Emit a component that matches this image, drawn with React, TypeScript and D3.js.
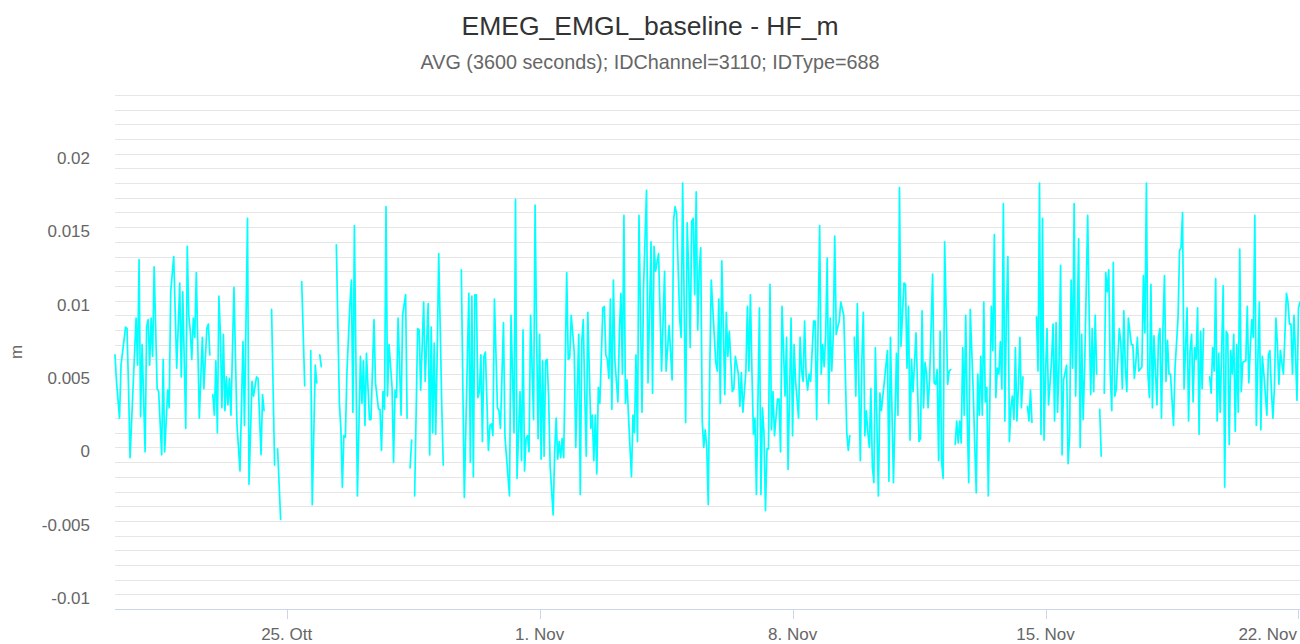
import * as d3 from "d3";
import { useEffect } from "react";

// hourly averages, [hours since start, value in mm]; null = no data (line breaks)
type Pt = [number, number | null];

const START = Date.UTC(2021, 9, 20, 6);
const LAST_HOUR = 787;

const oct20to23: Pt[] = [[0,6.3],[1,4.5],[3,2.0],[4,5.6],[7,8.2],[8,8.1],[9,4.0],[10,-0.7],[12,4.1],[14,8.8],[15,5.6],[16,12.8],[17,2.1],[18,7.0],[20,-0.3],[21,8.2],[22,8.7],[23,5.6],[24,8.8],[25,6.2],[26,12.3],[28,4.0],[29,3.8],[31,-0.5],[32,6.0],[33,-0.3],[35,3.9],[36,2.7],[37,10.6],[39,13.0],[41,5.4],[43,11.2],[44,4.8],[45,10.6],[47,1.3],[48,13.7],[49,9.0],[50,7.9],[51,6.0],[52,8.8],[53,7.5],[54,11.9],[56,2.0],[58,7.5],[59,4.0],[61,8.1],[62,8.4],[63,6.3],[64,null],[65,3.6],[66,2.2],[67,5.9],[68,1.0],[69,10.3]];
const oct23to26: Pt[] = [[70,7.7],[71,2.7],[72,7.7],[73,2.5],[74,4.8],[75,2.9],[76,4.7],[77,2.2],[79,10.9],[81,1.6],[83,-1.6],[85,7.2],[86,1.5],[88,15.6],[89,-2.5],[91,4.5],[92,3.5],[94,4.8],[95,4.7],[97,-0.5],[98,3.6],[99,2.5],[100,null],[104,9.4],[106,-1.2],[107,null],[108,-0.1],[110,-4.9],[111,null],[124,11.3],[126,4.2],[127,null],[130,6.6],[131,-3.9],[133,5.6],[134,4.4],[135,null],[136,6.3],[137,5.5],[138,null]];
const oct26to29: Pt[] = [[147,13.8],[149,3.1],[150,1.3],[151,-2.7],[152,0.8],[153,0.7],[154,5.0],[156,9.7],[157,11.4],[158,2.4],[159,15.1],[161,-3.3],[163,6.2],[164,3.0],[165,5.9],[166,1.5],[167,6.4],[169,1.9],[170,1.9],[172,8.7],[173,4.4],[175,2.6],[176,2.6],[177,-0.2],[178,3.8],[179,2.6],[180,16.4],[181,3.5],[182,7.0],[184,4.1],[185,-1.0],[186,3.9],[187,3.4],[188,8.8],[190,2.2],[191,9.0],[193,10.4],[194,2.0],[195,null],[196,-1.4],[197,0.5],[198,null],[199,-3.3],[201,8.1],[202,8.0],[203,3.9],[205,9.9],[206,4.5],[208,9.8],[209,-0.5],[210,8.2],[211,1.0]];
const oct29toNov1: Pt[] = [[212,7.1],[213,0.9],[214,6.5],[215,13.2],[217,2.9],[218,-1.2],[219,null],[230,12.1],[232,-3.4],[234,6.0],[235,10.5],[236,-1.0],[237,10.3],[238,-2.0],[239,10.4],[240,10.4],[241,3.4],[242,3.8],[243,6.3],[244,0.4],[245,6.2],[246,6.5],[248,-0.2],[249,1.5],[250,1.6],[251,0.8],[252,10.1],[254,2.7],[255,2.5],[256,1.3],[258,8.5],[259,0.7],[262,-3.3],[263,9.0],[265,1.0],[266,16.9],[267,-2.1],[269,3.8],[270,-0.9],[271,8.0],[272,-1.6],[273,0.6],[274,0.8],[275,-0.3],[276,9.0],[278,1.9],[279,16.5],[280,7.7],[281,0.6],[282,7.7],[283,-0.8]];
const nov1to4: Pt[] = [[284,5.9],[285,-0.6],[286,5.9],[287,6.0],[288,3.4],[289,-1.3],[291,-4.6],[292,-0.3],[293,2.0],[294,-0.8],[295,0.4],[296,-0.7],[297,0.6],[298,-0.7],[300,11.9],[301,6.0],[302,6.1],[303,9.0],[305,6.5],[306,0.0],[308,7.7],[309,-3.2],[310,7.2],[311,8.7],[312,3.5],[313,-0.6],[314,9.2],[316,1.3],[317,2.2],[318,-0.9],[319,2.2],[320,-1.8],[321,4.1],[322,3.0],[324,9.5],[325,9.6],[326,6.3],[327,6.0],[328,4.7],[329,10.1],[330,2.6],[331,11.4],[332,5.9],[334,3.1],[335,7.9],[336,10.5],[337,5.0],[338,15.8],[339,3.0],[340,4.6],[341,2.2],[343,-2.0],[344,2.2],[345,1.0],[346,6.3],[347,0.4],[348,15.8],[350,2.4],[351,10.8],[353,17.5],[354,4.4],[356,14.0]];
const nov4to7: Pt[] = [[357,3.7],[358,13.7],[359,12.0],[361,13.2],[363,5.2],[365,12.0],[366,5.2],[368,8.3],[370,4.6],[371,15.5],[372,16.4],[373,15.9],[375,8.8],[376,7.5],[377,18.0],[379,1.7],[380,15.3],[381,12.0],[382,6.8],[383,15.4],[384,15.6],[385,10.4],[386,17.4],[387,8.0],[388,12.0],[389,13.6],[390,1.8],[391,0.0],[392,1.2],[393,0.0],[394,-3.9],[395,5.2],[396,11.4],[397,9.5],[399,5.8],[400,5.2],[401,10.1],[402,3.0],[403,12.7],[405,3.6],[406,9.2],[407,6.2],[408,7.9],[410,3.8],[411,4.0],[412,6.2],[414,5.0],[415,2.8],[416,5.1],[417,2.4],[419,5.2],[420,9.6],[421,5.2],[422,10.4],[423,5.2],[424,0.9],[425,2.0],[426,-3.2],[428,9.5]];
const nov7to10: Pt[] = [[429,-3.2],[430,2.7],[431,1.0],[432,-4.3],[433,-0.1],[434,-0.1],[435,11.1],[436,1.2],[437,3.8],[438,0.8],[440,3.3],[441,3.3],[442,-0.3],[443,9.6],[445,3.5],[446,7.5],[447,-1.5],[449,8.8],[450,0.8],[451,7.0],[452,4.5],[454,2.0],[455,7.5],[456,5.2],[457,4.5],[458,8.6],[459,4.9],[460,3.9],[461,5.0],[462,4.5],[464,8.6],[465,8.6],[466,1.9],[467,8.6],[468,15.1],[469,5.0],[470,7.0],[471,5.5],[472,7.7],[473,12.9],[474,3.0],[475,8.8],[476,5.2],[477,7.5],[478,14.4],[479,7.7],[480,8.2],[481,8.6],[482,9.9],[484,9.0],[485,5.3],[486,1.0],[487,-0.2],[488,0.8],[489,null],[491,7.5],[492,3.5],[493,9.8],[495,-0.9],[496,5.9],[497,9.2],[498,0.8],[499,2.5]];
const nov10to13: Pt[] = [[500,1.0],[501,0.0],[502,4.0],[503,-1.3],[504,-2.4],[505,6.8],[507,-3.3],[508,3.7],[509,2.5],[513,6.6],[514,-2.3],[515,7.5],[517,-2.4],[519,6.4],[520,2.2],[521,17.7],[522,6.9],[524,11.2],[525,11.1],[526,5.4],[527,9.6],[528,0.5],[529,6.0],[530,3.8],[531,5.8],[532,7.8],[534,0.4],[535,0.6],[536,9.3],[537,2.7],[538,5.8],[539,5.0],[540,2.7],[541,4.6],[543,11.8],[544,4.4],[545,4.3],[546,5.3],[547,-0.9],[548,7.9],[549,-1.0],[550,-2.1],[551,14.0],[553,4.3],[554,5.2],[555,5.3],[556,null],[558,0.2],[559,1.8],[560,0.3],[561,1.8],[562,0.3],[563,6.8],[564,2.2],[565,9.0],[566,2.2],[567,-2.4],[568,9.4],[570,3.8],[571,0.1],[572,-3.1]];
const nov13to16: Pt[] = [[573,5.0],[574,2.2],[575,6.2],[576,2.2],[577,9.9],[578,3.1],[579,4.1],[580,-3.3],[582,9.6],[583,6.6],[584,14.5],[585,3.4],[586,5.4],[587,5.0],[588,7.2],[589,4.0],[590,16.6],[591,1.8],[592,9.0],[593,13.0],[594,0.4],[595,2.7],[596,3.5],[597,1.9],[598,6.8],[599,1.8],[600,4.2],[601,7.5],[602,2.7],[603,4.8],[604,null],[606,2.8],[607,1.8],[608,3.9],[609,1.7],[610,null],[612,8.9],[613,5.2],[614,18.0],[615,0.9],[616,15.6],[617,0.5],[618,5.0],[619,8.1],[620,2.9],[622,5.9],[623,8.4],[624,1.8],[625,8.5],[626,2.4],[627,5.9],[628,12.4],[629,-0.5],[630,4.6],[632,5.6],[633,-1.1],[634,0.8],[635,11.4],[636,5.4],[637,16.6],[638,3.5],[639,8.0],[640,14.2],[641,0.0],[642,7.7]];
const nov16to19: Pt[] = [[643,1.9],[644,5.6],[646,15.8],[647,9.0],[648,3.6],[649,8.1],[650,3.8],[651,9.0],[652,5.0],[653,null],[654,2.6],[655,-0.6],[656,null],[657,3.7],[658,11.9],[659,10.6],[660,12.1],[661,5.0],[662,2.5],[663,12.6],[664,3.5],[665,4.0],[667,8.1],[668,7.1],[669,4.0],[670,9.3],[671,5.4],[672,3.8],[673,8.8],[675,7.0],[676,7.0],[677,4.7],[678,5.8],[679,7.5],[680,5.2],[682,5.5],[683,11.7],[684,7.8],[685,18.0],[686,5.0],[687,3.4],[688,11.1],[689,2.7],[690,7.6],[692,2.9],[693,7.5],[694,8.1],[695,2.0],[696,8.1],[697,11.7],[698,4.5],[699,7.3],[700,5.0],[701,5.0],[703,1.5],[704,5.4],[706,8.8],[707,13.4],[708,13.6],[709,16.0],[710,4.0],[712,9.5],[713,1.8],[714,6.6]];
const nov19to22: Pt[] = [[715,7.7],[716,3.1],[717,6.8],[718,6.0],[719,9.5],[720,0.9],[721,7.9],[722,4.0],[723,8.1],[724,null],[727,4.8],[728,3.7],[729,6.8],[730,5.2],[731,11.5],[732,1.8],[733,6.4],[734,2.4],[736,11.0],[737,-2.7],[738,7.9],[739,7.7],[740,0.2],[741,6.6],[742,5.0],[743,7.7],[744,1.1],[745,7.0],[746,2.4],[747,13.5],[748,3.8],[749,5.8],[751,5.9],[752,9.6],[753,4.4],[754,6.8],[755,8.7],[756,7.5],[757,15.8],[758,1.5],[759,5.9],[760,9.9],[761,1.2],[762,6.2],[763,5.0],[765,2.2],[766,6.3],[767,6.6],[768,3.9],[769,2.0],[770,4.0],[771,8.8],[772,7.0],[773,4.3],[774,6.6],[775,5.7],[776,5.0],[778,10.5],[779,9.9],[780,8.4],[781,8.4],[782,5.0],[783,9.0],[784,6.4],[785,3.2],[786,9.5],[787,9.9]];

const series: Pt[] = [
  ...oct20to23, ...oct23to26, ...oct26to29, ...oct29toNov1, ...nov1to4, ...nov4to7,
  ...nov7to10, ...nov10to13, ...nov13to16, ...nov16to19, ...nov19to22,
];

const yTicks = [0.02, 0.015, 0.01, 0.005, 0, -0.005, -0.01];
const yTickLabels = ["0.02", "0.015", "0.01", "0.005", "0", "-0.005", "-0.01"];
const xTicks = [Date.UTC(2021, 9, 25), Date.UTC(2021, 10, 1), Date.UTC(2021, 10, 8), Date.UTC(2021, 10, 15), Date.UTC(2021, 10, 22)];
const xTickLabels = ["25. Ott", "1. Nov", "8. Nov", "15. Nov", "22. Nov"];

const W = 1300, H = 644;
const margin = { top: 95, right: 0, bottom: 35, left: 115 };
const FONT = "'Liberation Sans', Arial, Helvetica, sans-serif";

export default function App() {
  useEffect(() => {
    document.body.style.margin = "0";
  }, []);

  const x = d3.scaleUtc()
    .domain([START, START + LAST_HOUR * 3600e3])
    .range([margin.left, W - margin.right]);
  const y = d3.scaleLinear()
    .domain([-0.011, 0.024])
    .range([H - margin.bottom, margin.top]);

  // minor grid every 0.001
  const grid = d3.range(-11, 25).map(i => i / 1000);

  const line = d3.line<Pt>()
    .defined(d => d[1] !== null)
    .x(d => x(START + d[0] * 3600e3))
    .y(d => y((d[1] as number) / 1000));

  const axisY = H - margin.bottom;

  return (
    <svg width={W} height={H} style={{ display: "block", fontFamily: FONT }}>
      <rect width={W} height={H} fill="#fff" />
      <text x={W / 2} y={35} textAnchor="middle" fontSize={26.5} fill="#333333">
        EMEG_EMGL_baseline - HF_m
      </text>
      <text x={W / 2} y={69} textAnchor="middle" fontSize={19.8} fill="#666666">
        AVG (3600 seconds); IDChannel=3110; IDType=688
      </text>

      {grid.map(g => (
        <line key={g} x1={margin.left} x2={W - margin.right} y1={Math.round(y(g)) + 0.5} y2={Math.round(y(g)) + 0.5}
          stroke="#e6e6e6" strokeWidth={1} />
      ))}

      {yTicks.map((t, i) => (
        <text key={t} x={90} y={y(t) + 4.5} textAnchor="end" dominantBaseline="central" fontSize={17} fill="#666666">
          {yTickLabels[i]}
        </text>
      ))}
      <text transform={`translate(16, ${(margin.top + axisY) / 2}) rotate(-90)`} textAnchor="middle"
        dominantBaseline="central" fontSize={17} fill="#666666">m</text>

      <path d={line(series) ?? ""} fill="none" stroke="#00ffff" strokeWidth={1.7} strokeLinejoin="round" strokeLinecap="round" />

      <line x1={margin.left} x2={W} y1={axisY + 0.5} y2={axisY + 0.5} stroke="#ccd6eb" />
      {xTicks.map((t, i) => {
        const px = x(t);
        const nearEdge = px > W - 30;
        return (
          <g key={t}>
            <line x1={Math.round(px) + 0.5} x2={Math.round(px) + 0.5} y1={axisY} y2={axisY + 10} stroke="#ccd6eb" />
            <text x={nearEdge ? W - 3 : px} y={axisY + 31} textAnchor={nearEdge ? "end" : "middle"} fontSize={17} fill="#666666">
              {xTickLabels[i]}
            </text>
          </g>
        );
      })}
    </svg>
  );
}
